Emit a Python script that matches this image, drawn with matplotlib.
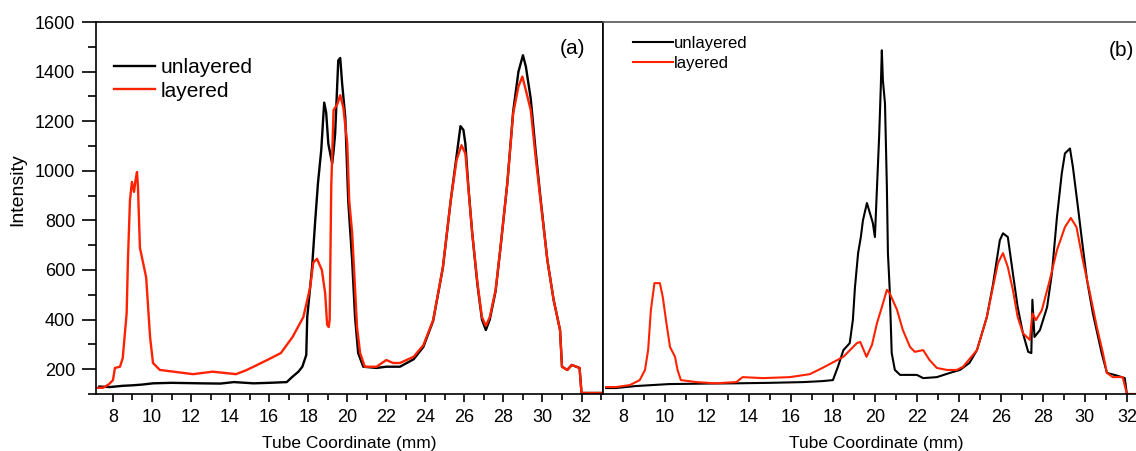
import numpy as np
import matplotlib
matplotlib.use('Agg')
import matplotlib.pyplot as plt
from matplotlib.ticker import MultipleLocator

plt.rcParams['font.family'] = ['Liberation Sans', 'DejaVu Sans']

# panel (a)
a_x_unl = [7.3, 7.85, 8.5, 9.0, 9.5, 10.05, 11.0, 12.5, 13.5, 14.2, 15.2, 16.0, 16.9, 17.2, 17.5,
           17.7, 17.9, 17.95, 18.2, 18.36, 18.5, 18.67, 18.77, 18.82, 18.92, 19.03, 19.15, 19.23,
           19.3, 19.38, 19.54, 19.64, 19.74, 19.9, 20.05, 20.25, 20.4, 20.56, 20.82, 21.5, 22.0,
           22.7, 23.4, 23.9, 24.4, 24.9, 25.3, 25.6, 25.8, 25.95, 26.05, 26.2, 26.4, 26.67, 26.9,
           27.1, 27.3, 27.6, 27.85, 28.2, 28.5, 28.77, 29.0, 29.15, 29.4, 29.65, 29.9, 30.25,
           30.57, 30.9, 31.0, 31.27, 31.5, 31.9, 32.0, 33.0]
a_y_unl = [130, 128, 133, 135, 138, 143, 145, 143, 142, 148, 143, 145, 148, 170, 190,
           210, 257, 410, 612, 800, 950, 1085, 1215, 1275, 1235, 1110, 1060, 1030,
           1080, 1150, 1445, 1455, 1350, 1215, 880, 640, 410, 265, 210, 205, 210,
           210, 240, 290, 395, 610, 880, 1060, 1180, 1165, 1110, 940, 750, 540, 400,
           358, 400, 515, 690, 950, 1240, 1400, 1466, 1420, 1290, 1080, 890, 640,
           480, 358, 210, 197, 217, 205, 104, 104]

a_x_lay = [7.15, 7.5, 7.8, 8.0, 8.1, 8.36, 8.5, 8.7, 8.77, 8.87, 8.97, 9.08, 9.15, 9.23, 9.28,
           9.38, 9.54, 9.7, 9.8, 9.9, 10.05, 10.4, 11.1, 12.1, 13.1, 14.3, 14.8, 15.2, 15.9,
           16.6, 17.2, 17.75, 18.1, 18.26, 18.45, 18.7, 18.87, 18.97, 19.05, 19.1, 19.18, 19.3,
           19.5, 19.64, 19.8, 20.0, 20.1, 20.25, 20.36, 20.5, 20.66, 20.9, 21.5, 22.0, 22.35,
           22.7, 23.4, 23.9, 24.4, 24.9, 25.3, 25.6, 25.85, 26.05, 26.2, 26.4, 26.67, 26.9,
           27.1, 27.3, 27.6, 27.85, 28.2, 28.5, 28.77, 28.97, 29.1, 29.4, 29.65, 29.9, 30.25,
           30.57, 30.9, 31.0, 31.27, 31.5, 31.9, 32.0, 33.0]
a_y_lay = [125, 125, 140, 156, 205, 210, 245, 425, 650, 880, 955, 915, 960, 995, 935,
           690, 630, 570, 450, 330, 225, 197, 190, 180, 190, 180, 195, 210, 237,
           265, 330, 410, 530, 630, 645, 600, 505, 380, 370, 400, 935, 1245,
           1270, 1305, 1255, 1110, 880, 750, 585, 370, 265, 210, 210, 237, 225,
           225, 250, 297, 398, 612, 880, 1043, 1103, 1070, 935, 750, 547, 410,
           375, 410, 520, 693, 950, 1232, 1340, 1380, 1340, 1245, 1055, 880, 640,
           480, 358, 210, 197, 217, 205, 104, 104]

# panel (b)
b_x_unl = [7.2, 7.67, 8.6, 10.2, 12.0, 13.4, 15.0, 16.6, 17.5, 18.0, 18.24, 18.5, 18.8, 18.95,
           19.05, 19.2, 19.33, 19.43, 19.62, 19.76, 19.9, 20.0, 20.1, 20.2, 20.28, 20.33, 20.38,
           20.48, 20.57, 20.62, 20.7, 20.8, 20.95, 21.2, 22.0, 22.3, 22.95, 23.57, 24.05, 24.5,
           24.86, 25.33, 25.62, 25.95, 26.1, 26.33, 26.57, 26.8, 27.05, 27.3, 27.45, 27.5, 27.6,
           27.86, 28.2, 28.43, 28.67, 28.9, 29.05, 29.29, 29.43, 29.67, 29.86, 30.1, 30.38,
           30.8, 31.05, 31.5, 31.9, 32.0, 33.0]
b_y_unl = [124, 124, 132, 140, 142, 143, 145, 148, 152, 156, 210, 277, 305, 398,
           530, 668, 733, 800, 870, 830, 790, 733, 935, 1135, 1337, 1486, 1365,
           1272, 935, 668, 530, 265, 197, 177, 177, 164, 168, 185, 197, 225,
           277, 410, 540, 720, 748, 733, 587, 450, 345, 270, 265, 480, 330,
           358, 450, 587, 813, 990, 1070, 1090, 1015, 853, 720, 560, 425,
           265, 185, 175, 164, 100, 100]

b_x_lay = [7.2, 7.67, 8.33, 8.8, 9.05, 9.2, 9.33, 9.5, 9.76, 9.9, 10.05, 10.24, 10.48, 10.6,
           10.76, 11.5, 12.4, 13.4, 13.7, 14.67, 15.95, 16.9, 17.5, 18.5, 19.14, 19.3, 19.6,
           19.86, 20.1, 20.33, 20.57, 20.7, 21.05, 21.33, 21.67, 21.9, 22.3, 22.6, 22.95, 23.43,
           23.9, 24.2, 24.86, 25.33, 25.62, 25.86, 26.1, 26.33, 26.57, 26.8, 27.05, 27.38, 27.5,
           27.67, 27.95, 28.33, 28.67, 29.05, 29.33, 29.6, 29.9, 30.24, 30.57, 30.86, 31.05,
           31.33, 31.8, 32.0, 33.0]
b_y_lay = [128, 128, 136, 156, 197, 277, 438, 547, 547, 490, 398, 290, 250, 197,
           156, 148, 143, 148, 168, 164, 168, 180, 205, 250, 305, 310, 250,
           298, 386, 450, 520, 507, 440, 358, 290, 270, 277, 237, 205, 197,
           197, 210, 277, 410, 530, 628, 668, 612, 520, 410, 345, 318, 425,
           398, 438, 560, 680, 773, 810, 773, 640, 507, 370, 265, 185,
           168, 168, 100, 100]

RED = '#ff2200'

fig = plt.figure(figsize=(11.36, 4.51), dpi=100)
axA = fig.add_axes([0.0845, 0.1264, 0.4463, 0.8248])
axB = fig.add_axes([0.5308, 0.1264, 0.4815, 0.8248])

axA.plot(a_x_unl, a_y_unl, color='black', lw=1.7, label='unlayered')
axA.plot(a_x_lay, a_y_lay, color=RED, lw=1.7, label='layered')
axB.plot(b_x_unl, b_y_unl, color='black', lw=1.5, label='unlayered')
axB.plot(b_x_lay, b_y_lay, color=RED, lw=1.5, label='layered')

axA.set_xlim(7.13, 33.1)
axB.set_xlim(7.05, 33.1)
for ax in (axA, axB):
    ax.set_ylim(100, 1600)
    ax.xaxis.set_major_locator(MultipleLocator(2))
    ax.xaxis.set_minor_locator(MultipleLocator(1))
    ax.tick_params(axis='x', which='major', direction='out', length=6, width=1.2, labelsize=13, pad=5)
    ax.tick_params(axis='x', which='minor', direction='out', length=4, width=1.2)
    ax.set_xlabel('Tube Coordinate (mm)', fontsize=12.5, labelpad=7)
    for s in ax.spines.values():
        s.set_linewidth(1.2)

axA.yaxis.set_major_locator(MultipleLocator(200))
axA.yaxis.set_minor_locator(MultipleLocator(100))
axA.tick_params(axis='y', which='major', direction='out', length=10, width=1.2, labelsize=13, pad=5)
axA.tick_params(axis='y', which='minor', direction='out', length=6, width=1.2)
axA.set_ylabel('Intensity', fontsize=14)
axA.yaxis.set_label_coords(-0.138, 0.55)

axB.tick_params(axis='y', which='both', left=False, labelleft=False)
axB.spines['right'].set_visible(False)
axB.spines['top'].set_color('#555555')

axA.legend(loc='upper left', bbox_to_anchor=(0.015, 0.93), frameon=False, fontsize=15,
           handlelength=1.95, handletextpad=0.3, labelspacing=0.2, borderpad=0)
axB.legend(loc='upper left', bbox_to_anchor=(0.04, 0.985), frameon=False, fontsize=12,
           handlelength=2.4, handletextpad=0.05, labelspacing=0.3, borderpad=0)

axA.text(0.965, 0.93, '(a)', transform=axA.transAxes, fontsize=15, ha='right', va='center')
fig.text(1134 / 1136, 1 - 50 / 451, '(b)', fontsize=15, ha='right', va='center')

fig.savefig('out.png', dpi=100)
